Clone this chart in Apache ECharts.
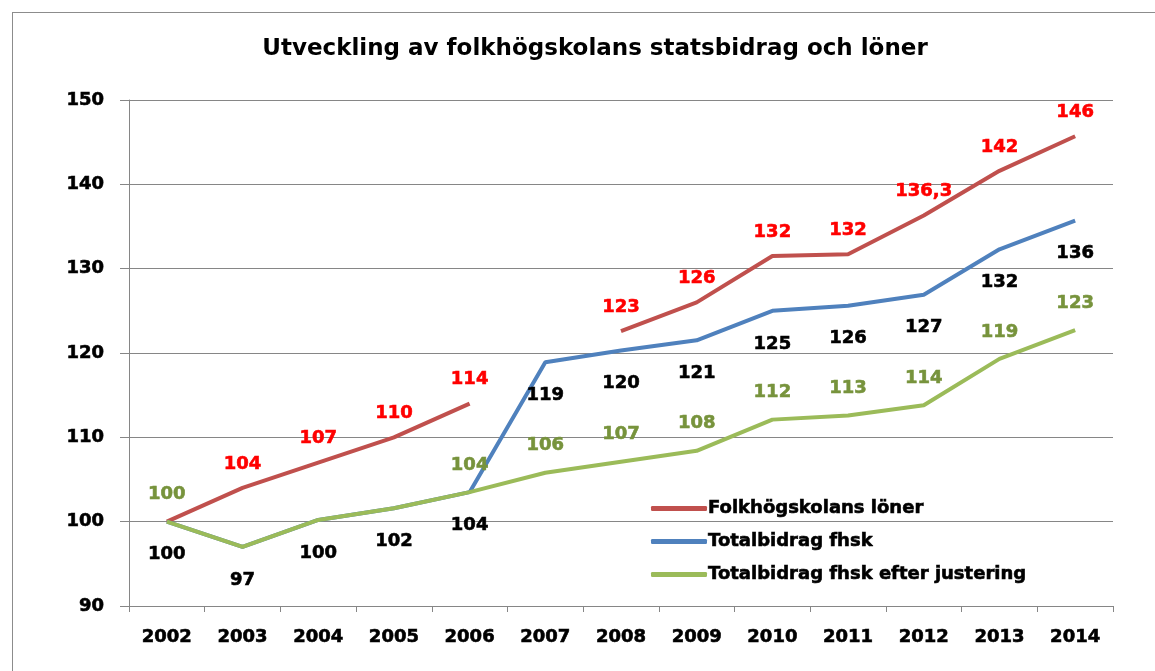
<!DOCTYPE html>
<html>
<head>
<meta charset="utf-8">
<script src="https://cdn.jsdelivr.net/npm/echarts@6/dist/echarts.min.js"></script>
<style>
  html, body { margin: 0; padding: 0; background: #fff; overflow: hidden; }
  #frame { position: absolute; left: 12px; top: 12px; width: 1200px; height: 700px; border: 1px solid #8c8c8c; box-sizing: border-box; }
  #chart { position: absolute; left: 0; top: 0; width: 1155px; height: 671px; }
</style>
</head>
<body>
<div id="frame"></div>
<div id="chart"></div>
<script>
const years = ["2002", "2003", "2004", "2005", "2006", "2007", "2008", "2009", "2010", "2011", "2012", "2013", "2014"];

// Folkhögskolans löner (no value for 2007)
const loner = [100, 104, 107, 110, 114, null, 122.6, 126, 131.5, 131.7, 136.3, 141.6, 145.7];
const lonerLabels = ["", "104", "107", "110", "114", "", "123", "126", "132", "132", "136,3", "142", "146"];

// Totalbidrag fhsk
const totalbidrag = [100, 97, 100.2, 101.6, 103.5, 118.9, 120.3, 121.5, 125, 125.6, 126.9, 132.3, 135.7];
const totalbidragLabels = ["100", "97", "100", "102", "104", "119", "120", "121", "125", "126", "127", "132", "136"];

// Totalbidrag fhsk efter justering
const justerat = [100, 97, 100.2, 101.6, 103.5, 105.8, 107.1, 108.4, 112.1, 112.6, 113.8, 119.3, 122.7];
const justeratLabels = ["100", "", "", "", "104", "106", "107", "108", "112", "113", "114", "119", "123"];

const FONT = "DejaVu Sans";
const FS = 18;

function points(values, labels) {
  return values.map((v, i) => ({
    value: v,
    label: { show: labels[i] !== "", formatter: labels[i] }
  }));
}

// a thin outline in the text colour makes the bold a little heavier
function heavy(color, extra) {
  return Object.assign({
    fontFamily: FONT, fontSize: FS, fontWeight: "bold", color: color,
    textBorderColor: color, textBorderWidth: 0.6
  }, extra || {});
}

const chart = echarts.init(document.getElementById("chart"));

chart.setOption({
  backgroundColor: "transparent",
  animation: false,
  textStyle: { fontFamily: FONT },
  title: {
    text: "Utveckling av folkhögskolans statsbidrag och löner",
    left: 590,
    textAlign: "center",
    top: 33,
    textStyle: { fontFamily: FONT, fontSize: 23, fontWeight: "bold", color: "#000" }
  },
  grid: { left: 129, right: 42, top: 100, bottom: 65 },
  legend: {
    orient: "vertical",
    left: 646,
    top: 493,
    itemWidth: 56,
    itemHeight: 5,
    itemGap: 12,
    icon: "roundRect",
    textStyle: heavy("#000", { lineHeight: 21, padding: [0, 0, 0, -4] }),
    data: ["Folkhögskolans löner", "Totalbidrag fhsk", "Totalbidrag fhsk efter justering"]
  },
  xAxis: {
    type: "category",
    data: years,
    boundaryGap: true,
    axisLine: { lineStyle: { color: "#868686", width: 1 } },
    axisTick: { show: true, length: 6, lineStyle: { color: "#868686" } },
    axisLabel: heavy("#000", { margin: 22 })
  },
  yAxis: {
    type: "value",
    min: 90,
    max: 150,
    interval: 10,
    axisLine: { show: true, lineStyle: { color: "#868686", width: 1 } },
    axisTick: { show: true, length: 9, lineStyle: { color: "#868686" } },
    axisLabel: heavy("#000", { margin: 25 }),
    splitLine: { lineStyle: { color: "#868686", width: 1 } }
  },
  series: [
    {
      name: "Folkhögskolans löner",
      type: "line",
      data: points(loner, lonerLabels),
      connectNulls: false,
      showSymbol: true,
      symbol: "circle",
      symbolSize: 0,
      lineStyle: { color: "#C0504D", width: 4 },
      itemStyle: { color: "#C0504D" },
      label: heavy("#FF0000", { position: "top", distance: 15 }),
      z: 2
    },
    {
      name: "Totalbidrag fhsk",
      type: "line",
      data: points(totalbidrag, totalbidragLabels),
      showSymbol: true,
      symbol: "circle",
      symbolSize: 0,
      lineStyle: { color: "#4F81BD", width: 4 },
      itemStyle: { color: "#4F81BD" },
      label: heavy("#000", { position: "bottom", distance: 24 }),
      z: 3
    },
    {
      name: "Totalbidrag fhsk efter justering",
      type: "line",
      data: points(justerat, justeratLabels),
      showSymbol: true,
      symbol: "circle",
      symbolSize: 0,
      lineStyle: { color: "#9BBB59", width: 4 },
      itemStyle: { color: "#9BBB59" },
      label: heavy("#77933C", { position: "top", distance: 18 }),
      z: 4
    }
  ]
});
</script>
</body>
</html>
